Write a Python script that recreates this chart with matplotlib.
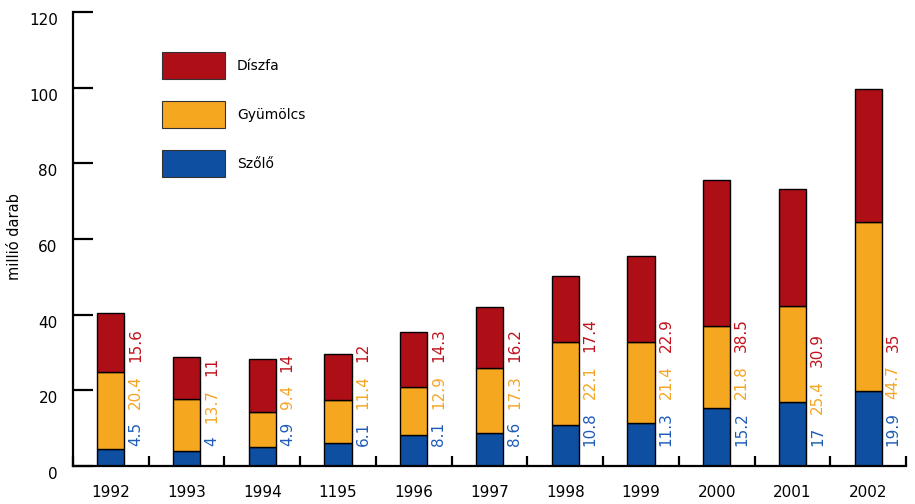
import matplotlib
matplotlib.use('Agg')
import matplotlib.pyplot as plt
import matplotlib.transforms as mtransforms
import numpy as np

# adatok
evek = ['1992', '1993', '1994', '1195', '1996', '1997', '1998', '1999', '2000', '2001', '2002']
szolo = [4.5, 4, 4.9, 6.1, 8.1, 8.6, 10.8, 11.3, 15.2, 17, 19.9]
gyumolcs = [20.4, 13.7, 9.4, 11.4, 12.9, 17.3, 22.1, 21.4, 21.8, 25.4, 44.7]
diszfa = [15.6, 11, 14, 12, 14.3, 16.2, 17.4, 22.9, 38.5, 30.9, 35]

# szinek
c_red, c_orange, c_blue = '#ae0f17', '#f6a720', '#0e4fa1'
t_red, t_orange, t_blue = '#c1121c', '#f5a524', '#1e5cb8'

plt.rcParams['font.family'] = ['DejaVu Sans']
fig = plt.figure(figsize=(9.15, 5.04), dpi=100)
ax = fig.add_axes([73/915, 38/504, (906-73)/915, (466-12)/504])

x = np.arange(len(evek)) + 0.5
w = 0.36
s = np.array(szolo)
g = np.array(gyumolcs)
d = np.array(diszfa)

ax.bar(x, s, w, color=c_blue, edgecolor='black', linewidth=1, label='Szőlő')
ax.bar(x, g, w, bottom=s, color=c_orange, edgecolor='black', linewidth=1, label='Gyümölcs')
ax.bar(x, d, w, bottom=s + g, color=c_red, edgecolor='black', linewidth=1, label='Díszfa')

ax.set_xlim(0, len(evek))
ax.set_ylim(0, 120)

for sp in ['top', 'right']:
    ax.spines[sp].set_visible(False)
for sp in ['left', 'bottom']:
    ax.spines[sp].set_linewidth(1.6)

# y tengely
ax.set_yticks(range(0, 121, 20))
ax.tick_params(axis='y', direction='in', length=14.4, width=1.6, pad=11, labelsize=11)
off = mtransforms.ScaledTranslation(0, -0.07, fig.dpi_scale_trans)
for lab in ax.get_yticklabels():
    lab.set_transform(lab.get_transform() + off)
ax.set_ylabel('millió darab', fontsize=10.5)
ax.yaxis.set_label_coords(-0.061, 0.505)

# x tengely: jelek a csoportok között, feliratok a bárok alatt
ax.set_xticks(np.arange(0, len(evek) + 1))
ax.set_xticklabels([])
ax.tick_params(axis='x', which='major', direction='in', length=7.5, width=1.6)
ax.set_xticks(x, minor=True)
ax.set_xticklabels(evek, minor=True)
ax.tick_params(axis='x', which='minor', length=0, pad=14, labelsize=11)

# értékcímkék (függőleges, egymás után)
fig.canvas.draw()
renderer = fig.canvas.get_renderer()
gap = 13  # px
for i in range(len(evek)):
    xt = x[i] + 0.33
    y0 = ax.transData.transform((0, 0))[1] + 20
    for val, col in ((szolo[i], t_blue), (gyumolcs[i], t_orange), (diszfa[i], t_red)):
        ydata = ax.transData.inverted().transform((0, y0))[1]
        t = ax.text(xt, ydata, f'{val:g}', rotation=90, ha='center', va='bottom',
                    color=col, fontsize=11)
        bb = t.get_window_extent(renderer)
        y0 = bb.y1 + gap

# jelmagyarázat
h, l = ax.get_legend_handles_labels()
leg = fig.legend(h[::-1], l[::-1], loc='upper left',
                 bbox_to_anchor=(162/915, 1 - 52/504), bbox_transform=fig.transFigure,
                 frameon=False, fontsize=10, handlelength=4.5, handleheight=2.65,
                 labelspacing=1.55, handletextpad=0.9, borderpad=0, borderaxespad=0)
for p in leg.get_patches():
    p.set_edgecolor('#333333')
    p.set_linewidth(0.8)

fig.savefig('out.png', dpi=100)
